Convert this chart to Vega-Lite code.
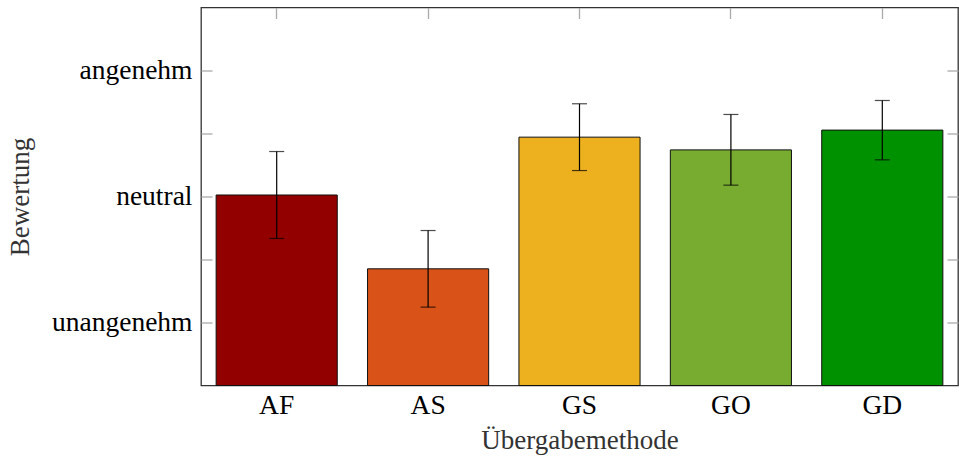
{
  "$schema": "https://vega.github.io/schema/vega-lite/v6.json",
  "width": 757,
  "height": 378,
  "autosize": "none",
  "padding": {"left": 201, "top": 7.5, "right": 1, "bottom": 71.5},
  "config": {
    "view": {"stroke": "#333333", "strokeWidth": 1.3},
    "font": "Liberation Serif",
    "axis": {"labelFont": "Liberation Serif", "titleFont": "Liberation Serif", "labelColor": "#000000", "titleColor": "#333333", "titleFontWeight": "normal", "labelFontSize": 27.5, "titleFontSize": 27, "domain": false, "grid": false}
  },
  "data": {
    "values": [
      {"method": "AF", "mean": 0.012, "lo": -0.333, "hi": 0.357},
      {"method": "AS", "mean": -0.574, "lo": -0.878, "hi": -0.27},
      {"method": "GS", "mean": 0.471, "lo": 0.206, "hi": 0.736},
      {"method": "GO", "mean": 0.37, "lo": 0.09, "hi": 0.651},
      {"method": "GD", "mean": 0.527, "lo": 0.291, "hi": 0.762}
    ]
  },
  "layer": [
    {
      "mark": {"type": "bar", "stroke": "#111111", "strokeWidth": 1},
      "encoding": {
        "x": {"field": "method", "type": "nominal", "sort": ["AF", "AS", "GS", "GO", "GD"],
          "scale": {"paddingInner": 0.2, "paddingOuter": 0.1},
          "axis": {"orient": "bottom", "ticks": false, "labelAngle": 0, "labelBaseline": "alphabetic", "labelPadding": 28, "title": "Übergabemethode", "titleBaseline": "alphabetic", "titleY": 63}},
        "y": {"field": "mean", "type": "quantitative", "scale": {"domain": [-1.5, 1.5], "nice": false, "zero": false},
          "axis": {"orient": "left", "values": [-1, -0.5, 0, 0.5, 1], "labelExpr": "datum.value == 1 ? 'angenehm' : datum.value == 0 ? 'neutral' : datum.value == -1 ? 'unangenehm' : ''", "tickSize": -11, "tickColor": "#aaaaaa", "tickWidth": 1.3, "labelPadding": 20, "title": "Bewertung", "titleAngle": 270, "titleX": -181, "titleY": 189, "titleAlign": "center", "titleBaseline": "middle"}},
        "y2": {"datum": -1.5},
        "color": {"field": "method", "type": "nominal", "scale": {"domain": ["AF", "AS", "GS", "GO", "GD"], "range": ["#930000", "#D95319", "#EDB120", "#77AC30", "#009100"]}, "legend": null}
      }
    },
    {
      "mark": {"type": "rule", "color": "#000000", "strokeWidth": 1.2},
      "encoding": {
        "x": {"field": "method", "type": "nominal", "sort": ["AF", "AS", "GS", "GO", "GD"],
          "axis": {"orient": "top", "labels": false, "title": null, "tickSize": -11, "tickColor": "#aaaaaa", "tickWidth": 1.3}},
        "y": {"field": "lo", "type": "quantitative",
          "axis": {"orient": "right", "values": [-1, -0.5, 0, 0.5, 1], "labels": false, "title": null, "tickSize": -11, "tickColor": "#aaaaaa", "tickWidth": 1.3}},
        "y2": {"field": "hi"}
      }
    },
    {
      "mark": {"type": "tick", "color": "#000000", "size": 15, "thickness": 1.2},
      "encoding": {
        "x": {"field": "method", "type": "nominal", "sort": ["AF", "AS", "GS", "GO", "GD"], "axis": null},
        "y": {"field": "lo", "type": "quantitative", "axis": null}
      }
    },
    {
      "mark": {"type": "tick", "color": "#000000", "size": 15, "thickness": 1.2},
      "encoding": {
        "x": {"field": "method", "type": "nominal", "sort": ["AF", "AS", "GS", "GO", "GD"], "axis": null},
        "y": {"field": "hi", "type": "quantitative", "axis": null}
      }
    }
  ],
  "resolve": {"axis": {"x": "independent", "y": "independent"}}
}
